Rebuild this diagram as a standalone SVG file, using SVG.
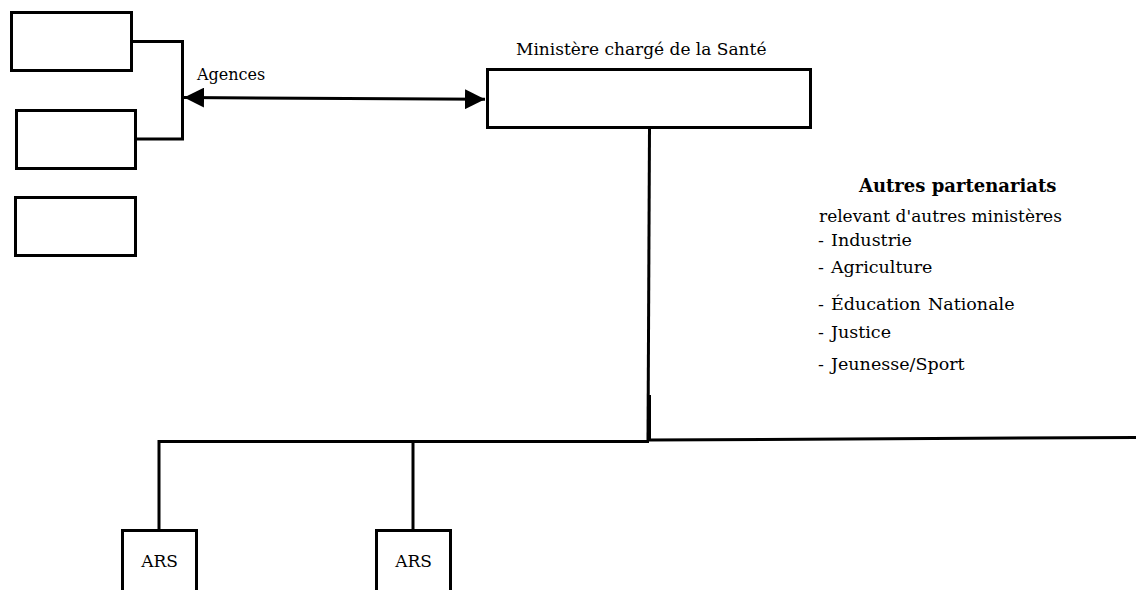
<svg xmlns="http://www.w3.org/2000/svg" width="1136" height="590" viewBox="0 0 1136 590">
<style>
.box{fill:#fff;stroke:#000;stroke-width:3}
.ln{fill:none;stroke:#000;stroke-width:3}
.t{font-family:"DejaVu Serif",serif;font-size:17px;fill:#000}
.li{font-size:17.5px;word-spacing:1.5px}
.b{font-weight:bold;font-size:18px}
</style>
<defs>
<marker id="ah" viewBox="0 0 20 20" refX="20" refY="10" markerWidth="20" markerHeight="20" markerUnits="userSpaceOnUse" orient="auto-start-reverse">
<path d="M0,0 L20,10 L0,20 Z" fill="#000"/>
</marker>
</defs>
<rect width="1136" height="590" fill="#fff"/>
<g id="connectors">
<polyline class="ln" points="132,41.5 182.5,41.5 182.5,139 137,139"/>
<line class="ln" x1="184" y1="97.5" x2="485" y2="99.3" marker-start="url(#ah)" marker-end="url(#ah)"/>
<line class="ln" x1="649.5" y1="128" x2="648" y2="441"/>
<line class="ln" x1="649.5" y1="395" x2="649.5" y2="441"/>
<polyline class="ln" points="159,530 159,441.5 649,441.5"/>
<line class="ln" x1="413" y1="441.5" x2="413" y2="530"/>
<line class="ln" x1="648" y1="440" x2="1136" y2="437.5"/>
</g>
<g id="agence1"><rect class="box" x="11.5" y="12.5" width="120" height="58"/></g>
<g id="agence2"><rect class="box" x="16.5" y="110.5" width="119" height="58"/></g>
<g id="agence3"><rect class="box" x="15.5" y="197.5" width="120" height="58"/></g>
<g id="agences-label"><text class="t" x="197" y="80" style="font-size:16px">Agences</text></g>
<g id="ministere">
<text class="t" x="516" y="55">Ministère chargé de la Santé</text>
<rect class="box" x="487.5" y="69.5" width="323" height="58"/>
</g>
<g id="partenariats">
<text class="t b" x="859" y="192">Autres partenariats</text>
<text class="t" x="819" y="222">relevant d'autres ministères</text>
<text class="t li" x="818" y="246">- Industrie</text>
<text class="t li" x="818" y="273">- Agriculture</text>
<text class="t li" x="818" y="310">- Éducation Nationale</text>
<text class="t li" x="818" y="338">- Justice</text>
<text class="t li" x="818" y="370">- Jeunesse/Sport</text>
</g>
<g id="ars1">
<rect class="box" x="122.5" y="530.5" width="74" height="70"/>
<text class="t" x="159.5" y="567" text-anchor="middle">ARS</text>
</g>
<g id="ars2">
<rect class="box" x="376.5" y="530.5" width="74" height="70"/>
<text class="t" x="413.5" y="567" text-anchor="middle">ARS</text>
</g>
</svg>
